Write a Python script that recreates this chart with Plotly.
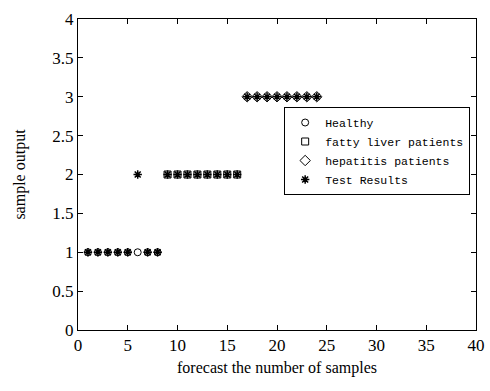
import plotly.graph_objects as go

healthy_x = [1, 2, 3, 4, 5, 6, 7, 8]
healthy_y = [1, 1, 1, 1, 1, 1, 1, 1]
fatty_x = [9, 10, 11, 12, 13, 14, 15, 16]
fatty_y = [2, 2, 2, 2, 2, 2, 2, 2]
hep_x = [17, 18, 19, 20, 21, 22, 23, 24]
hep_y = [3, 3, 3, 3, 3, 3, 3, 3]
test_x = list(range(1, 25))
test_y = [1, 1, 1, 1, 1, 2, 1, 1,
          2, 2, 2, 2, 2, 2, 2, 2,
          3, 3, 3, 3, 3, 3, 3, 3]

x_ticks = [0, 5, 10, 15, 20, 25, 30, 35, 40]
y_ticks = [0, 0.5, 1, 1.5, 2, 2.5, 3, 3.5, 4]
y_ticktext = ["0", "0.5", "1", "1.5", "2", "2.5", "3", "3.5", "4"]

fig = go.Figure()
fig.add_trace(go.Scatter(x=healthy_x, y=healthy_y, mode="markers", name="Healthy",
                         marker=dict(symbol="circle-open", size=7, color="black", line=dict(width=1))))
fig.add_trace(go.Scatter(x=fatty_x, y=fatty_y, mode="markers", name="fatty liver patients",
                         marker=dict(symbol="square-open", size=7, color="black", line=dict(width=1))))
fig.add_trace(go.Scatter(x=hep_x, y=hep_y, mode="markers", name="hepatitis patients",
                         marker=dict(symbol="diamond-open", size=8, color="black", line=dict(width=1))))
fig.add_trace(go.Scatter(x=test_x, y=test_y, mode="markers", name="Test Results",
                         marker=dict(symbol="asterisk-open", size=7, color="black", line=dict(width=1.5, color="black"))))

axis_common = dict(showgrid=False, zeroline=False, showline=True, linecolor="black", linewidth=1,
                   mirror="ticks", ticks="inside", ticklen=5, tickcolor="black", automargin=False,
                   tickfont=dict(family="Liberation Serif", size=17, color="black"))

fig.update_xaxes(range=[0, 40], tickvals=x_ticks,
                 title=dict(text="forecast the number of samples", standoff=7,
                            font=dict(family="Liberation Serif", size=16, color="black")),
                 **axis_common)
fig.update_yaxes(range=[0, 4], tickvals=y_ticks, ticktext=y_ticktext,
                 title=dict(text="sample output", standoff=22,
                            font=dict(family="Liberation Serif", size=16, color="black")),
                 **axis_common)

fig.update_layout(
    width=490, height=391,
    margin=dict(l=78, r=14, t=19, b=61),
    plot_bgcolor="white", paper_bgcolor="white",
    legend=dict(x=0.518, y=0.717, xanchor="left", yanchor="top",
                bgcolor="white", bordercolor="black", borderwidth=1,
                font=dict(family="Liberation Mono", size=11.5, color="black"),
                tracegroupgap=0, itemwidth=30),
)

fig.write_html("out.html", config={"displayModeBar": False},
               post_script="document.body.style.margin='0';")
